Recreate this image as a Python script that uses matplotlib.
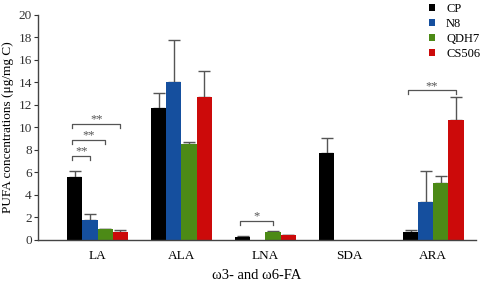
import matplotlib.pyplot as plt
import numpy as np

plt.rcParams['font.family'] = ['Liberation Serif', 'DejaVu Serif']

fatty_acids = ["LA", "ALA", "LNA", "SDA", "ARA"]
strains = ["CP", "N8", "QDH7", "CS506"]
colors = ["#000000", "#154f9e", "#4c8a16", "#cc0a0a"]

# means and upper error per strain (same order as fatty_acids)
means = {
    "CP":    [5.6, 11.7, 0.25, 7.7, 0.75],
    "N8":    [1.8, 14.0, 0.0, 0.0, 3.4],
    "QDH7":  [0.95, 8.5, 0.75, 0.0, 5.1],
    "CS506": [0.75, 12.7, 0.4, 0.0, 10.7],
}
errs = {
    "CP":    [0.55, 1.4, 0.12, 1.35, 0.12],
    "N8":    [0.55, 3.8, 0.0, 0.0, 2.75],
    "QDH7":  [0.05, 0.2, 0.05, 0.0, 0.55],
    "CS506": [0.15, 2.3, 0.05, 0.0, 2.0],
}

# significance brackets: (group, strain i, strain j, height, label)
brackets = [
    (0, 0, 1, 7.5, "**"),
    (0, 0, 2, 8.9, "**"),
    (0, 0, 3, 10.3, "**"),
    (2, 0, 2, 1.7, "*"),
    (4, 0, 3, 13.3, "**"),
]

fig = plt.figure(figsize=(4.8, 2.83), dpi=100)
ax = fig.add_axes([0.079, 0.152, 0.913, 0.795])

x = np.arange(len(fatty_acids))
w = 0.18
for i, s in enumerate(strains):
    pos = x + (i - 1.5) * w
    m = np.array(means[s])
    e = np.array(errs[s])
    ax.bar(pos, m, w, color=colors[i], label=s, zorder=2)
    ok = e > 0
    ax.errorbar(pos[ok], m[ok], yerr=[np.zeros(ok.sum()), e[ok]], fmt="none",
                ecolor="#555555", elinewidth=1, capsize=4, capthick=1, zorder=1)

for g, i, j, h, lab in brackets:
    x1 = x[g] + (i - 1.5) * w - 0.03
    x2 = x[g] + (j - 1.5) * w
    ax.plot([x1, x1, x2, x2], [h - 0.35, h, h, h - 0.35], color="#555555", lw=0.9)
    ax.text((x1 + x2) / 2, h - 0.15, lab, ha="center", va="bottom", fontsize=9, color="#555555")

ax.set_xlim(-0.71, 4.51)
ax.set_ylim(0, 20)
ax.set_yticks(np.arange(0, 21, 2))
ax.set_xticks(x)
ax.set_xticklabels(fatty_acids, fontsize=9.5)
ax.tick_params(axis="x", length=0, pad=7)
ax.tick_params(axis="y", labelsize=9.5, length=3, width=0.8, pad=1.5, colors="#333333")
for sp in ["top", "right"]:
    ax.spines[sp].set_visible(False)
for sp in ["left", "bottom"]:
    ax.spines[sp].set_color("#444444")
    ax.spines[sp].set_linewidth(1.0)

ax.set_ylabel("PUFA concentrations (μg/mg C)", fontsize=9.5, labelpad=3)
ax.set_xlabel("ω3- and ω6-FA", fontsize=10.5, labelpad=5)

ax.legend(loc="upper right", bbox_to_anchor=(1.035, 1.105), frameon=False, fontsize=9,
          handlelength=0.5, handleheight=0.5, handletextpad=0.9, labelspacing=0.25)

fig.savefig("out.png", dpi=100)
